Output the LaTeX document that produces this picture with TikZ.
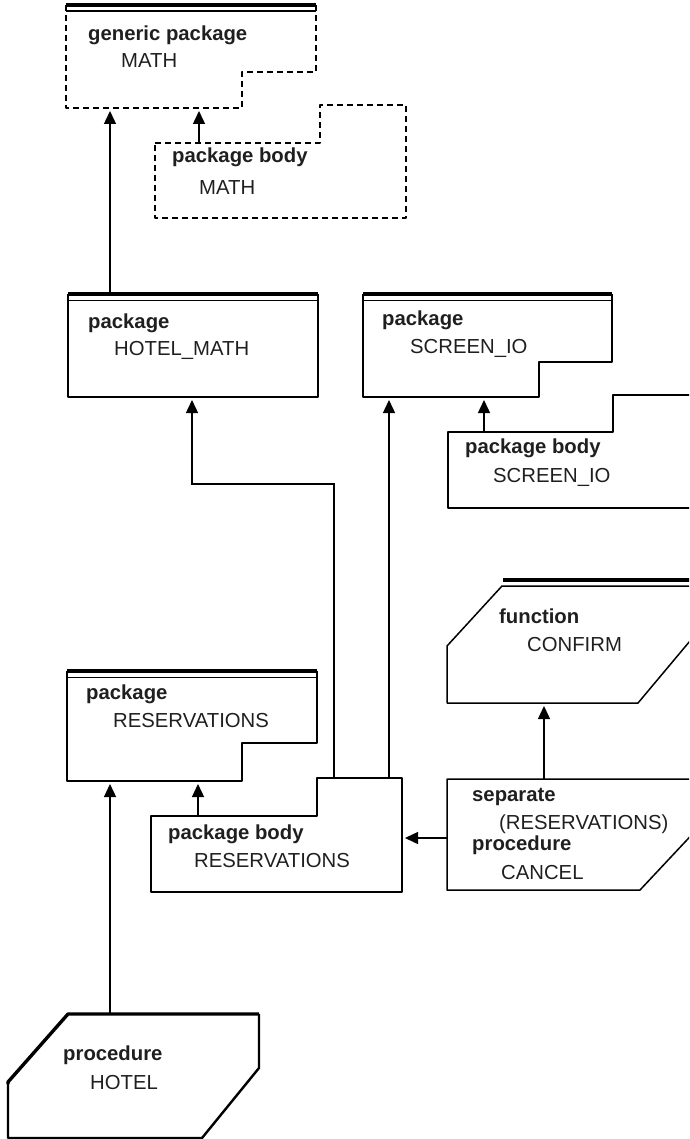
\documentclass[tikz,border=0pt]{standalone}
\usepackage{fontspec}
\setmainfont{Liberation Sans}
\usetikzlibrary{arrows.meta}
\begin{document}
\begin{tikzpicture}[x=1pt,y=-1pt,
  outline/.style={line width=1.5pt,line join=round},
  dashedline/.style={outline,dash pattern=on 6pt off 4pt},
  bar/.style={line width=3.4pt},
  thinbar/.style={line width=1.3pt},
  kw/.style={anchor=base west,inner sep=0pt,font=\fontsize{20.3}{24}\selectfont\bfseries,text=black!88},
  nm/.style={anchor=base west,inner sep=0pt,font=\fontsize{20.3}{24}\selectfont,text=black!88},
  dep/.style={line width=1.4pt,-{Triangle[length=13pt,width=12pt]},shorten >=3pt}]
\useasboundingbox (0,0) rectangle (689,1139);
\clip (0,0) rectangle (689,1139);

% generic package MATH (dashed)
\draw[dashedline] (66,5) -- (66,108) -- (242,108) -- (242,72) -- (316,72) -- (316,5);
\draw[bar] (66,5) -- (316,5);
\draw[thinbar] (66,11) -- (316,11);
\node[kw] (gmk) at (88,41) {generic package};
\node[nm] (gmn) at (121,68) {MATH};
\coordinate (gm-a) at (110,108);
\coordinate (gm-b) at (199,108);

% package body MATH (dashed)
\draw[dashedline] (155,143) -- (320,143) -- (320,105) -- (406,105) -- (406,218) -- (155,218) -- cycle;
\node[kw] (bmk) at (172,163) {package body};
\node[nm] (bmn) at (199,195) {MATH};
\coordinate (bm-top) at (199,143);

% package HOTEL_MATH
\draw[outline] (68,294) -- (68,397) -- (318,397) -- (318,294);
\draw[bar] (68,294) -- (318,294);
\draw[thinbar] (68,300.5) -- (318,300.5);
\node[kw] (hmk) at (88,328) {package};
\node[nm] (hmn) at (114,355) {HOTEL\_MATH};
\coordinate (hm-top) at (110,294);
\coordinate (hm-bot) at (192,397);

% package SCREEN_IO
\draw[outline] (363,294) -- (363,397) -- (539,397) -- (539,362) -- (612,362) -- (612,294);
\draw[bar] (363,294) -- (612,294);
\draw[thinbar] (363,300.5) -- (612,300.5);
\node[kw] (sik) at (382,325) {package};
\node[nm] (sin) at (410,353) {SCREEN\_IO};
\coordinate (si-a) at (389,397);
\coordinate (si-b) at (484,397);

% package body SCREEN_IO
\draw[outline] (700,508) -- (448,508) -- (448,432) -- (613,432) -- (613,395) -- (700,395);
\node[kw] (sbk) at (465,453) {package body};
\node[nm] (sbn) at (493,482) {SCREEN\_IO};
\coordinate (sb-top) at (484,432);

% function CONFIRM
\draw[outline] (700,586) -- (502,586) -- (447,646) -- (447,703) -- (638,703) -- (700,629);
\draw[bar] (503,580) -- (700,580);
\node[kw] (cfk) at (499,623) {function};
\node[nm] (cfn) at (527,651) {CONFIRM};
\coordinate (cf-bot) at (544,703);

% package RESERVATIONS
\draw[outline] (67,671) -- (67,781) -- (242,781) -- (242,743) -- (317,743) -- (317,671);
\draw[bar] (67,671) -- (317,671);
\draw[thinbar] (67,677.5) -- (317,677.5);
\node[kw] (rpk) at (86,699) {package};
\node[nm] (rpn) at (113,727) {RESERVATIONS};
\coordinate (rp-a) at (110,781);
\coordinate (rp-b) at (198,781);

% package body RESERVATIONS
\draw[outline] (151,816) -- (317,816) -- (317,778) -- (402,778) -- (402,892) -- (151,892) -- cycle;
\node[kw] (rbk) at (168,839) {package body};
\node[nm] (rbn) at (194,867) {RESERVATIONS};
\coordinate (rb-top) at (198,816);
\coordinate (rb-a) at (334,778);
\coordinate (rb-b) at (389,778);
\coordinate (rb-right) at (402,838);
\coordinate (rb-bend) at (334,484);

% separate procedure CANCEL
\draw[outline] (700,779) -- (447,779) -- (447,890) -- (640,890) -- (700,826);
\node[kw] (cak) at (472,801) {separate};
\node[nm] (can) at (499,829) {(RESERVATIONS)};
\node[kw] (cpk) at (472,850) {procedure};
\node[nm] (cpn) at (501,879) {CANCEL};
\coordinate (ca-top) at (544,779);
\coordinate (ca-left) at (447,838);

% procedure HOTEL
\draw[line width=2.4pt,line join=round] (259,1014) -- (259,1068) -- (202,1138) -- (8,1138) -- (8,1082);
\draw[line width=3.4pt,line join=round] (8,1084) -- (8,1082) -- (68,1014) -- (259,1014);
\node[kw] (hpk) at (63,1060) {procedure};
\node[nm] (hpn) at (90,1089) {HOTEL};
\coordinate (hp-top) at (110,1014);

% dependencies
\draw[dep] (hm-top) -- (gm-a);
\draw[dep] (bm-top) -- (gm-b);
\draw[dep] (rb-a) -- (rb-bend) -| (hm-bot);
\draw[dep] (rb-b) -- (si-a);
\draw[dep] (sb-top) -- (si-b);
\draw[dep] (ca-top) -- (cf-bot);
\draw[dep] (ca-left) -- (rb-right);
\draw[dep] (hp-top) -- (rp-a);
\draw[dep] (rb-top) -- (rp-b);
\end{tikzpicture}
\end{document}
